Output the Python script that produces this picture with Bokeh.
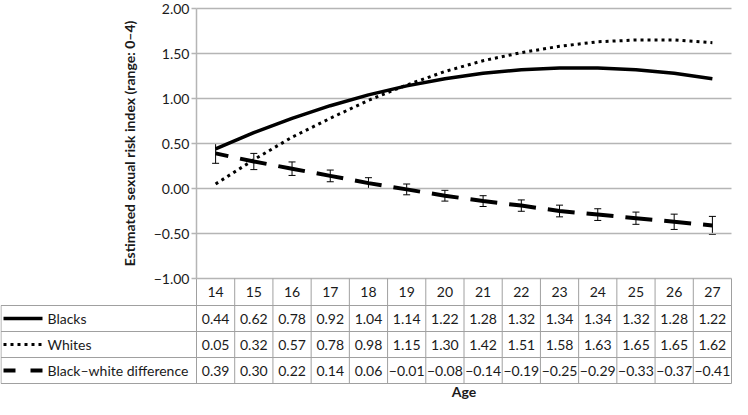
from bokeh.plotting import figure
from bokeh.models import Range1d, FixedTicker, CustomJSTickFormatter, ColumnDataSource, Whisker, TeeHead
from bokeh.embed import file_html
from bokeh.resources import INLINE
from bokeh.core.properties import value

# ---------------- data ----------------
ages = list(range(14, 28))
blacks = [0.44, 0.62, 0.78, 0.92, 1.04, 1.14, 1.22, 1.28, 1.32, 1.34, 1.34, 1.32, 1.28, 1.22]
whites = [0.05, 0.32, 0.57, 0.78, 0.98, 1.15, 1.30, 1.42, 1.51, 1.58, 1.63, 1.65, 1.65, 1.62]
diff = [0.39, 0.30, 0.22, 0.14, 0.06, -0.01, -0.08, -0.14, -0.19, -0.25, -0.29, -0.33, -0.37, -0.41]
diff_err = [0.11, 0.09, 0.075, 0.065, 0.06, 0.06, 0.06, 0.06, 0.063, 0.065, 0.065, 0.068, 0.085, 0.10]
series_names = ["Blacks", "Whites", "Black\u2013white difference"]
y_ticks = [-1.0, -0.5, 0.0, 0.5, 1.0, 1.5, 2.0]
x_title = "Age"
y_title = "Estimated sexual risk index (range: 0\u20134)"

# ---------------- layout / style ----------------
FONT = "Lato"
TXT = "#1a1a1a"
GRID = "#b5b5b5"
BORDER = "#a0a0a0"
W = 732
H = 399
LABEL_W = 196
COL_W = (W - LABEL_W - 1) / len(ages)
TOP = 8
CHART_H = 270
HEAD_H = 27
ROW_H = 26
AGE_H = H - TOP - CHART_H - HEAD_H - 3 * ROW_H
PXU = CHART_H / (y_ticks[-1] - y_ticks[0])

x0 = ages[0] - 0.5
x_last = ages[-1] + 0.5
tx0 = x0 - LABEL_W / COL_W
x_end = x0 + (W - LABEL_W) / COL_W


def yb(px):
    """data y for a point px pixels below the bottom gridline"""
    return y_ticks[0] - px / PXU


def px(d):
    """data x for a point d pixels right of the figure's left edge"""
    return tx0 + d / COL_W


n_rows = len(series_names)
table_bottom = yb(HEAD_H + n_rows * ROW_H)

p = figure(width=W, height=H, output_backend="svg", toolbar_location=None,
           x_range=Range1d(tx0, x_end),
           y_range=Range1d(yb(HEAD_H + n_rows * ROW_H + AGE_H), y_ticks[-1] + TOP / PXU),
           min_border_left=0, min_border_right=0, min_border_top=0, min_border_bottom=0,
           x_axis_location=None)
p.outline_line_color = None
p.xgrid.visible = False
p.ygrid.visible = False

# y axis placed at the left edge of the data columns
ax = p.yaxis[0]
ax.fixed_location = x0
ax.bounds = (y_ticks[0], y_ticks[-1])
ax.ticker = FixedTicker(ticks=y_ticks, minor_ticks=[])
ax.formatter = CustomJSTickFormatter(
    code="return (tick < 0 ? '\\u2212' : '') + Math.abs(tick).toFixed(2);")
ax.axis_line_color = GRID
ax.axis_line_width = 1.5
ax.major_tick_line_color = GRID
ax.major_tick_line_width = 1.5
ax.major_tick_out = 5
ax.major_tick_in = 0
ax.minor_tick_line_color = None
ax.major_label_text_font = FONT
ax.major_label_text_font_size = "14px"
ax.major_label_text_color = TXT
ax.major_label_standoff = 2
ax.axis_label = y_title
ax.axis_label_text_font = FONT
ax.axis_label_text_font_size = "14px"
ax.axis_label_text_font_style = "bold"
ax.axis_label_text_color = TXT
ax.axis_label_standoff = 13

# horizontal gridlines
p.segment(x0=[x0] * len(y_ticks), x1=[x_last] * len(y_ticks), y0=y_ticks, y1=y_ticks,
          line_color=GRID, line_width=1.5)

# series
p.line(ages, blacks, line_width=3.5, line_color="black")
p.line(ages, whites, line_width=3, line_color="black", line_dash="3 4")
p.line(ages, diff, line_width=4, line_color="black", line_dash="27 12", line_dash_offset=14)

src = ColumnDataSource(dict(x=ages,
                            lo=[d - e for d, e in zip(diff, diff_err)],
                            hi=[d + e for d, e in zip(diff, diff_err)]))
wh = Whisker(source=src, base="x", lower="lo", upper="hi", dimension="height",
             line_color="black", line_width=1,
             upper_head=TeeHead(size=7, line_color="black", line_width=1),
             lower_head=TeeHead(size=7, line_color="black", line_width=1))
p.add_layout(wh)

# ---------------- data table ----------------
x_left = px(0.5)
row_lines = [yb(HEAD_H + r * ROW_H) for r in range(n_rows + 1)]
p.multi_line(xs=[[x_left, x_last] for _ in row_lines], ys=[[y, y] for y in row_lines],
             line_color=BORDER, line_width=1)
col_lines = [a - 0.5 for a in ages] + [x_last]
p.multi_line(xs=[[v, v] for v in col_lines], ys=[[y_ticks[0], table_bottom] for _ in col_lines],
             line_color=BORDER, line_width=1)
p.multi_line(xs=[[x_left, x_left]], ys=[[row_lines[0], table_bottom]],
             line_color=BORDER, line_width=1)

# header row (ages)
p.text(x=ages, y=[yb(HEAD_H / 2)] * len(ages), text=[str(a) for a in ages],
       text_align="center", text_baseline="middle",
       text_font=value(FONT), text_font_size="14px", text_color=TXT)


def fmt(v):
    return ("\u2212" if v < 0 else "") + f"{abs(v):.2f}"


row_centers = [yb(HEAD_H + r * ROW_H + ROW_H / 2) for r in range(n_rows)]
for yc, vals in zip(row_centers, [blacks, whites, diff]):
    p.text(x=ages, y=[yc] * len(ages), text=[fmt(v) for v in vals],
           text_align="center", text_baseline="middle",
           text_font=value(FONT), text_font_size="14px", text_color=TXT)

p.text(x=[px(47)] * n_rows, y=row_centers, text=series_names,
       text_align="left", text_baseline="middle",
       text_font=value(FONT), text_font_size="14px", text_color=TXT)

p.line([px(3), px(42)], [row_centers[0]] * 2, line_width=3.5, line_color="black")
p.line([px(3), px(43)], [row_centers[1]] * 2, line_width=3, line_color="black", line_dash="3 4")
p.line([px(3), px(42)], [row_centers[2]] * 2, line_width=4, line_color="black", line_dash="12 15")

p.text(x=[(x0 + x_last) / 2], y=[yb(HEAD_H + n_rows * ROW_H + AGE_H / 2)], text=[x_title],
       text_align="center", text_baseline="middle",
       text_font=value(FONT), text_font_size="14px", text_font_style="bold", text_color=TXT)

open("out.html", "w").write(file_html(p, INLINE))
